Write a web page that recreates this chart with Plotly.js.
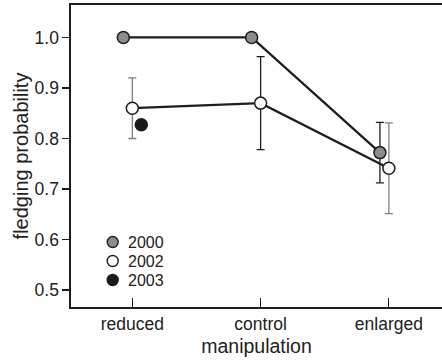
<!DOCTYPE html>
<html>
<head>
<meta charset="utf-8">
<script src="https://cdn.plot.ly/plotly-3.0.1.min.js"></script>
<style>html,body{margin:0;padding:0;background:#fff;}#chart{width:442px;height:362px;}</style>
</head>
<body>
<div id="chart"></div>
<script>
// ---- data ----
var categories = ["reduced", "control", "enlarged"];
var years = ["2000", "2002", "2003"];
var fledge2000 = [1.0, 1.0, 0.772];
var err2000 = [null, null, 0.06];
var fledge2002 = [0.86, 0.87, 0.741];
var err2002Gray = [0.06, null, 0.09];
var err2002Dark = [null, 0.092, null];
var fledge2003 = [0.827, null, null];
var yTicks = [0.5, 0.6, 0.7, 0.8, 0.9, 1.0];

// ---- style ----
var DARK = "#1e1e1e";
var GRAY = "#808080";
var FILLS = ["#8c8c8c", "#ffffff", "#1a1a1a"];
var dodge = 0.07;
var idx = categories.map(function (c, i) { return i; });
function shift(d) { return idx.map(function (i) { return i + d; }); }
var x2000 = shift(-dodge), x2002 = shift(0), x2003 = shift(dodge);
function errArr(a) { return a.map(function (v) { return v == null ? 0 : v; }); }

var font = "'Liberation Sans', Arial, Helvetica, sans-serif";

function errTrace(x, y, e, col) {
  return {x: x, y: y, mode: "markers", marker: {opacity: 0, size: 1}, showlegend: false, hoverinfo: "skip",
          error_y: {type: "data", array: errArr(e), visible: true, color: col, thickness: 1.3, width: 4}};
}
function markerTrace(x, y, i) {
  return {x: x, y: y, mode: "markers", name: years[i], showlegend: false,
          marker: {size: 12, color: FILLS[i], line: {color: DARK, width: 1.5}}};
}

var traces = [
  {x: x2000, y: fledge2000, mode: "lines", line: {color: DARK, width: 2.3}, showlegend: false, hoverinfo: "skip"},
  {x: x2002, y: fledge2002, mode: "lines", line: {color: DARK, width: 2.3}, showlegend: false, hoverinfo: "skip"},
  errTrace(x2000, fledge2000, err2000, DARK),
  errTrace(x2002, fledge2002, err2002Gray, GRAY),
  errTrace(x2002, fledge2002, err2002Dark, DARK),
  markerTrace(x2000, fledge2000, 0),
  markerTrace(x2002, fledge2002, 1),
  markerTrace(x2003, fledge2003, 2)
];

// manual legend (markers + text) placed in paper coords
var legX = 0.1124, legTextX = 0.148, legY = [0.215, 0.1523, 0.0894];
var shapes = [], annotations = [];
years.forEach(function (yr, i) {
  shapes.push({type: "circle", xref: "paper", yref: "paper", xsizemode: "pixel", ysizemode: "pixel",
               xanchor: legX, yanchor: legY[i], x0: -5.5, x1: 5.5, y0: -5.5, y1: 5.5,
               fillcolor: FILLS[i], line: {color: DARK, width: 1.4}});
  annotations.push({xref: "paper", yref: "paper", x: legTextX, y: legY[i], xanchor: "left", yanchor: "middle",
                    text: yr, showarrow: false, font: {size: 16, family: font, color: "#222"}});
});

var layout = {
  width: 442, height: 362,
  margin: {l: 71, r: 0, t: 5, b: 55},
  paper_bgcolor: "#fff", plot_bgcolor: "#fff",
  font: {family: font, color: "#222", size: 16},
  showlegend: false,
  shapes: shapes,
  annotations: annotations,
  xaxis: {
    range: [-0.478, 2.414], tickvals: idx, ticktext: categories,
    showgrid: false, zeroline: false, showline: true, mirror: true, linecolor: DARK, linewidth: 1.6,
    ticks: "inside", ticklen: 9, tickcolor: DARK, tickwidth: 1.2,
    tickfont: {size: 17.5, family: font, color: "#222"},
    title: {text: "manipulation", font: {size: 19.5, family: font, color: "#222"}, standoff: 7}
  },
  yaxis: {
    range: [0.4663, 1.0643], tickvals: yTicks,
    ticktext: yTicks.map(function (v) { return v.toFixed(1); }),
    showgrid: false, zeroline: false, showline: true, mirror: false, linecolor: DARK, linewidth: 1.6,
    ticks: "outside", ticklen: 7, tickcolor: DARK, tickwidth: 1.2,
    tickfont: {size: 17.5, family: font, color: "#222"},
    title: {text: "fledging probability", font: {size: 20, family: font, color: "#222"}, standoff: 0}
  }
};

Plotly.newPlot("chart", traces, layout, {displayModeBar: false, staticPlot: true});
</script>
</body>
</html>
